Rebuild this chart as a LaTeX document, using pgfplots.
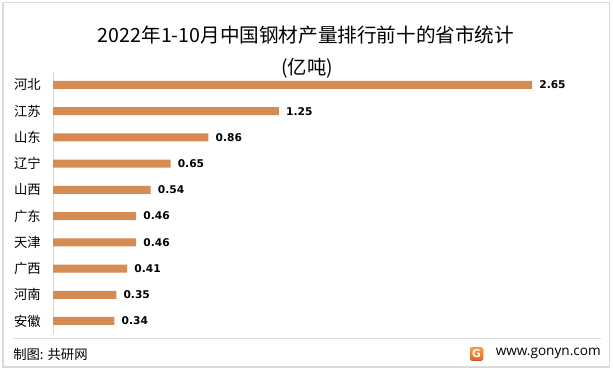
\documentclass[border=0pt]{standalone}
\usepackage{pgfplots}
\pgfplotsset{compat=1.18}
\usepackage{fontspec}
\setmainfont{Noto Sans CJK SC}
\newfontfamily\numfont{DejaVu Sans}
\newfontfamily\webfont{Open Sans}
\definecolor{barc}{RGB}{213,139,81}
\definecolor{framec}{RGB}{217,217,217}
\definecolor{logoa}{RGB}{250,160,60}
\definecolor{logob}{RGB}{235,95,40}
\pgfplotstableread{
i v lab
0 0.34 0.34
1 0.35 0.35
2 0.41 0.41
3 0.46 0.46
4 0.46 0.46
5 0.54 0.54
6 0.65 0.65
7 0.86 0.86
8 1.25 1.25
9 2.65 2.65
}\datatab
\begin{document}
\begin{tikzpicture}[x=0.75pt,y=-0.75pt]
\useasboundingbox (0,0) rectangle (613,370);
\draw[framec,line width=1.2pt] (3,2.5) rectangle (609.5,367);
\node[font=\fontsize{14.7}{16}\selectfont] at (306,35) {2022年1-10月中国钢材产量排行前十的省市统计};
\node[font=\fontsize{14.5}{16}\selectfont] at (307,68) {(亿吨)};
\draw[framec,line width=0.75pt] (13,338) -- (601,338);
\node[anchor=west, font=\fontsize{10}{12}\selectfont, inner sep=0pt] at (13,354) {制图: 共研网};
\node[anchor=east, font=\webfont\fontsize{10.2}{12}\selectfont, inner sep=0pt] at (601,353.5) {www.gonyn.com};
\fill[rounded corners=1.2pt, top color=logoa, bottom color=logob] (470,347.5) rectangle (483,360.5);
\node[white, font=\numfont\bfseries\fontsize{8}{8}\selectfont, inner sep=0pt] at (476.5,354) {G};
\begin{axis}[
  at={(39.75pt,-250.575pt)}, anchor=south west,
  scale only axis, width=393.2pt, height=196.7pt,
  xmin=0, xmax=2.9, ymin=-0.5, ymax=9.5,
  axis x line=none, axis y line*=left,
  y axis line style={framec, line width=0.75pt},
  ytick={0,...,9},
  yticklabels={安徽,河南,广西,天津,广东,山西,辽宁,山东,江苏,河北},
  major tick length=0pt,
  yticklabel style={font=\fontsize{10}{12}\selectfont, inner sep=0pt, xshift=-9pt},
  xbar, bar width=6pt,
  nodes near coords, point meta=explicit symbolic,
  every node near coord/.append style={font=\numfont\bfseries\fontsize{8}{9}\selectfont, inner sep=0pt, xshift=5.25pt, anchor=west},
  clip=false]
\addplot[fill=barc, draw=none] table[x=v, y=i, meta=lab] {\datatab};
\end{axis}
\end{tikzpicture}
\end{document}
